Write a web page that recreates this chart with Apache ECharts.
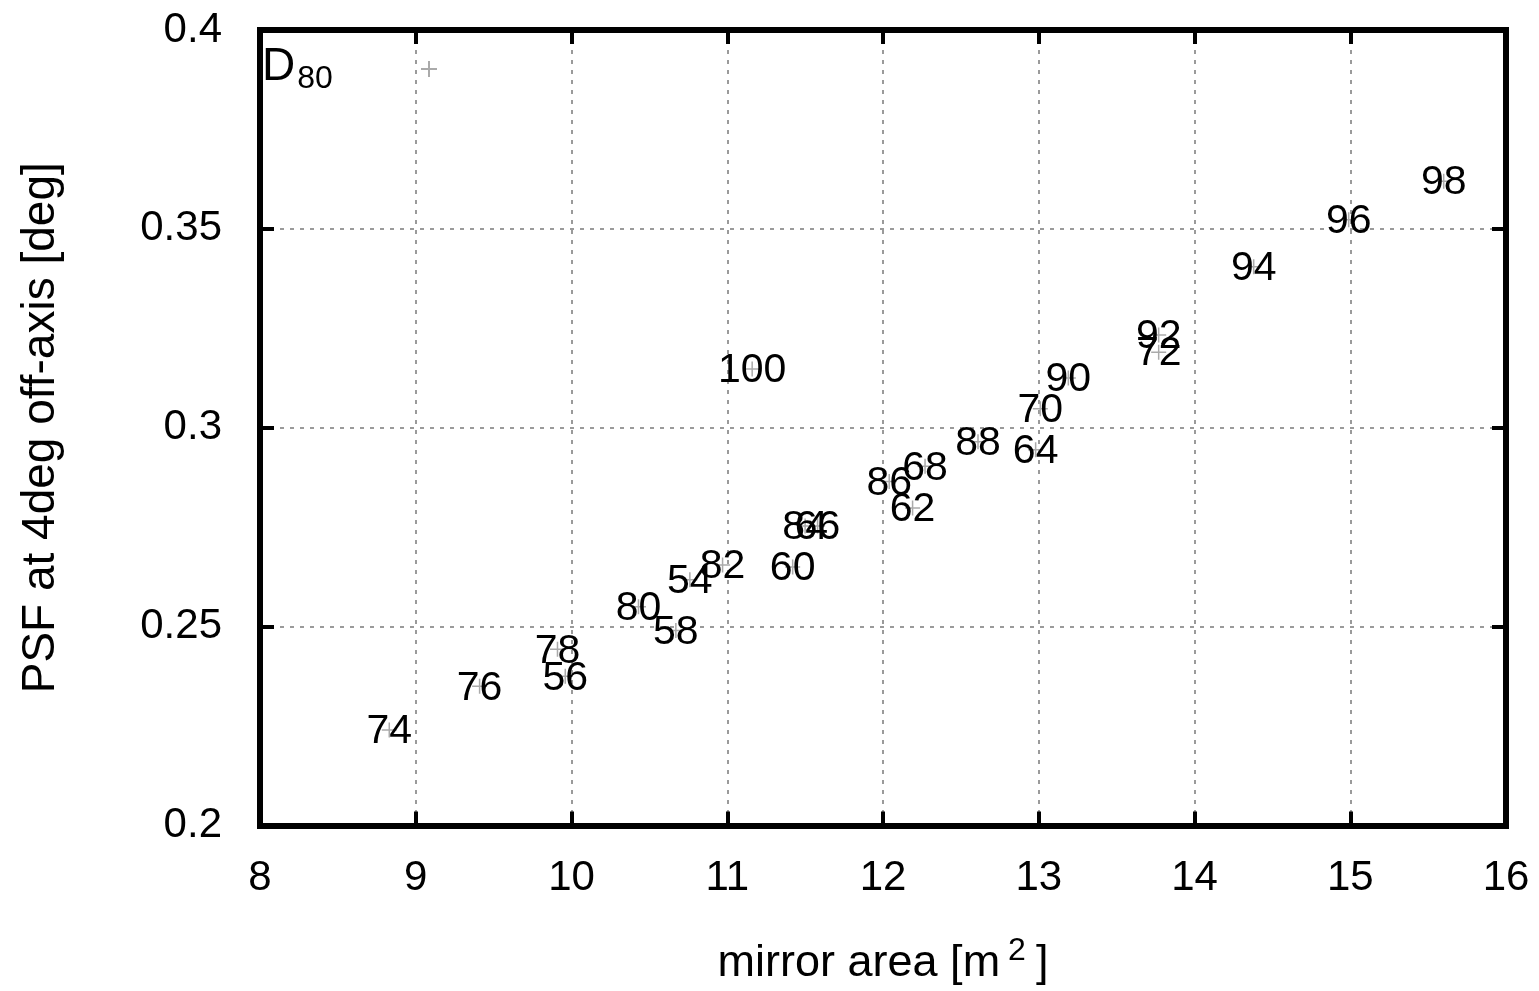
<!DOCTYPE html>
<html>
<head>
<meta charset="utf-8">
<title>PSF vs mirror area</title>
<script src="https://cdn.jsdelivr.net/npm/echarts@6/dist/echarts.min.js"></script>
<style>
  html, body { margin: 0; padding: 0; background: #fff; }
  #chart { width: 1539px; height: 991px; }
</style>
</head>
<body>
<div id="chart"></div>
<script>
// D80 label for each configuration, mirror area [m^2], PSF at 4deg off-axis [deg]
var names = ['74', '76', '78', '56', '80', '58', '54', '82', '60', '84', '66', '86',
             '62', '68', '88', '64', '70', '90', '72', '92', '94', '96', '98', '100'];
var mirrorArea = [8.83, 9.41, 9.91, 9.96, 10.43, 10.67, 10.76, 10.97, 11.42, 11.50, 11.58, 12.04,
                  12.19, 12.27, 12.61, 12.98, 13.01, 13.19, 13.77, 13.77, 14.38, 14.99, 15.60, 11.16];
var psf = [0.2240, 0.2350, 0.2443, 0.2375, 0.2550, 0.2490, 0.2618, 0.2655, 0.2650, 0.2753, 0.2753, 0.2865,
           0.2798, 0.2903, 0.2965, 0.2945, 0.3048, 0.3125, 0.3190, 0.3233, 0.3405, 0.3523, 0.3620, 0.3148];
var xTicks = [8, 9, 10, 11, 12, 13, 14, 15, 16];
var yTicks = [0.2, 0.25, 0.3, 0.35, 0.4];

var points = names.map(function (n, i) { return [mirrorArea[i], psf[i], n]; });

var FONT = '"Liberation Sans", Arial, sans-serif';
var plus = 'path://M0,5L10,5M5,0L5,10';

var chart = echarts.init(document.getElementById('chart'));

var gridStyle = { show: true, showMinLine: false, showMaxLine: false,
                  lineStyle: { color: '#9a9a9a', width: 2, type: [4, 6] } };
var tickStyle = { show: true, inside: true, length: 14, lineStyle: { color: '#000', width: 4 } };
var frame = { show: true, onZero: false, lineStyle: { color: '#000', width: 6, cap: 'square' } };

chart.setOption({
    animation: false,
    backgroundColor: '#fff',
    grid: { left: 260, right: 33, top: 30, bottom: 163 },
    graphic: [{
        type: 'text', left: 262, top: 44, z: 10,
        style: {
            text: '{d|D}{s|80}',
            rich: {
                d: { fontSize: 46, fontFamily: FONT, fill: '#000', lineHeight: 50 },
                s: { fontSize: 32, fontFamily: FONT, fill: '#000', padding: [24, 0, 0, 2] }
            }
        }
    }],
    legend: {
        left: 415, top: 55,
        icon: plus,
        itemWidth: 16, itemHeight: 16,
        formatter: function () { return ''; },
        selectedMode: false
    },
    xAxis: [{
        type: 'value', min: 8, max: 16, interval: 1, position: 'bottom',
        name: '{t|mirror area [m}{sup|2}{t|]}',
        nameLocation: 'middle', nameGap: 110,
        nameTextStyle: {
            rich: {
                t: { fontSize: 45, fontFamily: FONT, color: '#000', lineHeight: 56 },
                sup: { fontSize: 32, fontFamily: FONT, color: '#000', verticalAlign: 'top',
                       lineHeight: 56, padding: [0, 10, 0, 8] }
            }
        },
        axisLine: frame,
        axisTick: tickStyle,
        splitLine: gridStyle,
        axisLabel: { fontSize: 42, fontFamily: FONT, color: '#000', margin: 32,
            formatter: function (v) { return xTicks.indexOf(v) >= 0 ? String(v) : ''; } }
    }, {
        type: 'value', min: 8, max: 16, interval: 1, position: 'top',
        axisLine: frame, axisTick: tickStyle,
        splitLine: { show: false }, axisLabel: { show: false }
    }],
    yAxis: [{
        type: 'value', min: 0.2, max: 0.4, interval: 0.05, position: 'left',
        name: 'PSF at 4deg off-axis [deg]',
        nameLocation: 'middle', nameGap: 196, nameRotate: 90,
        nameTextStyle: { fontSize: 46, fontFamily: FONT, color: '#000' },
        axisLine: frame,
        axisTick: tickStyle,
        splitLine: gridStyle,
        axisLabel: { fontSize: 42, fontFamily: FONT, color: '#000', margin: 38,
            formatter: function (v) {
                var r = Math.round(v * 100) / 100;
                return yTicks.indexOf(r) >= 0 ? String(r) : '';
            } }
    }, {
        type: 'value', min: 0.2, max: 0.4, interval: 0.05, position: 'right',
        axisLine: frame, axisTick: tickStyle,
        splitLine: { show: false }, axisLabel: { show: false }
    }],
    series: [{
        name: 'D80',
        type: 'scatter',
        xAxisIndex: 0, yAxisIndex: 0,
        data: points,
        symbol: plus,
        symbolSize: 15,
        itemStyle: { color: '#aaa', borderColor: '#aaa', borderWidth: 1.5, opacity: 1 },
        label: {
            show: true, position: 'inside', offset: [0, 2],
            fontSize: 41, fontFamily: FONT, color: '#000',
            formatter: function (p) { return p.value[2]; }
        },
        emphasis: { disabled: true }
    }]
});
</script>
</body>
</html>
